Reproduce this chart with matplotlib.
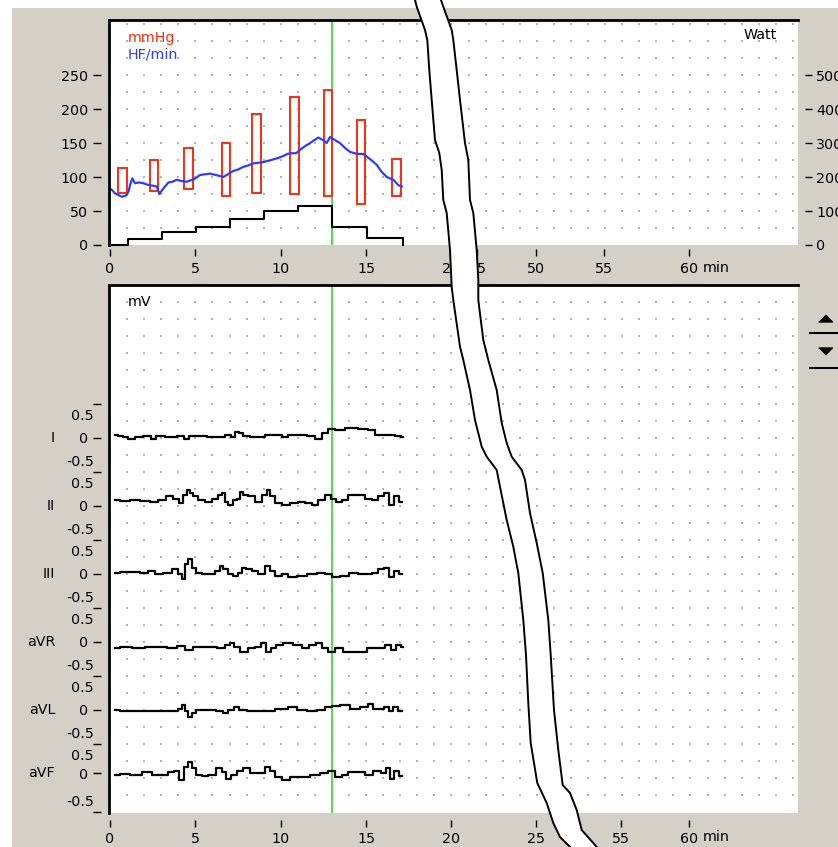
import numpy as np
import matplotlib
matplotlib.use('Agg')
import matplotlib.pyplot as plt
from matplotlib.patches import Polygon, Rectangle
from matplotlib.lines import Line2D
from matplotlib.transforms import offset_copy

W, H = 838, 847
GREY = '#d4d0c8'
plt.rcParams['font.family'] = 'DejaVu Sans'
plt.rcParams['font.size'] = 10.3

# blood pressure (mmHg), heart rate, load
bp_t = [0.73, 2.59, 4.6, 6.8, 8.58, 10.81, 12.78, 14.7, 16.78]
bp_sys = [114, 125, 142, 150, 192, 217, 228, 184, 127]
bp_dia = [77, 80, 83, 72, 77, 75, 72, 61, 72]

hr_t = [0.0, 0.15, 0.29, 0.45, 0.69, 0.85, 0.98, 1.1, 1.17, 1.31, 1.46, 1.7, 1.95, 2.15, 2.34,
        2.55, 2.74, 2.89, 3.0, 3.12, 3.42, 3.65, 3.91, 4.2, 4.49, 4.7, 4.88, 5.05, 5.27, 5.55,
        5.86, 6.2, 6.64, 6.9, 7.22, 7.5, 7.81, 8.1, 8.39, 8.7, 8.98, 9.3, 9.57, 9.85, 10.15,
        10.4, 10.64, 10.9, 11.13, 11.4, 11.72, 11.95, 12.2, 12.5, 12.69, 12.89, 13.2, 13.47, 13.75, 14.06,
        14.45, 14.84, 15.04, 15.3, 15.62, 15.9, 16.21, 16.4, 16.6, 16.89, 17.09]
hr = [83, 80, 76, 74, 71, 72, 73.5, 80, 88, 98, 91, 92, 91, 89, 88,
      87, 86, 75, 79, 83, 92, 93, 96, 94, 93, 95, 96, 99, 103, 104,
      105, 103, 100, 104, 109, 111, 115, 117, 120, 121, 122, 124, 126, 128, 131,
      134, 135, 135, 140, 145, 150, 154, 158, 154, 150, 159, 154, 150, 143, 137,
      134, 134, 130, 125, 118, 108, 100, 98, 96, 88, 86]

watt_t = [0, 1.03, 3.03, 5.02, 7.03, 9.02, 11.03, 13.0, 15.05, 17.18]
watt = [0, 17, 37, 54, 76, 100, 116, 54, 22, 0]

marker_t = 13.0

top_ticks = [0, 5, 10, 15, 20, 21.5, 24.96, 28.94, 33.92]
top_labels = ['0', '5', '10', '15', '20', '45', '50', '55', '60']
bot_ticks = [0, 5, 10, 15, 19.98, 24.96, 29.94, 33.92]
bot_labels = ['0', '5', '10', '15', '20', '25', '55', '60']

# ECG leads (mV)
leads = ['I', 'II', 'III', 'aVR', 'aVL', 'aVF']
lead_zero = [0, -1, -2, -3, -4, -4.93]

I_t = [0.29, 0.59, 0.88, 1.27, 1.66, 2.25, 2.54, 2.83, 3.61, 4.20, 4.49, 4.79, 5.37, 5.96, 6.54,
       6.93, 7.23, 7.42, 7.71, 7.91, 8.50, 8.89, 9.28, 9.86, 10.25, 10.64, 11.23, 11.82, 12.21, 12.60,
       12.99, 13.38, 14.16, 14.94, 15.33, 15.72, 16.50, 16.89, 17.19]
I_mv = [0.04, 0.03, 0.02, -0.01, 0.02, 0.03, -0.01, 0.03, 0.02, 0.03, -0.01, 0.03, 0.03, 0.02, 0.01,
        0.04, 0.02, 0.09, 0.07, 0.03, 0.02, 0.01, 0.04, 0.05, 0.01, 0.04, 0.05, 0.03, -0.01, 0.07,
        0.13, 0.12, 0.14, 0.13, 0.12, 0.05, 0.05, 0.03, 0.02]

II_t = [0.29, 0.88, 1.46, 2.05, 2.64, 3.03, 3.52, 3.91, 4.20, 4.39, 4.59, 4.79, 4.98, 5.37, 5.76,
        6.15, 6.45, 6.64, 6.84, 7.03, 7.32, 7.52, 7.71, 7.91, 8.30, 8.69, 9.08, 9.28, 9.47, 9.86,
        10.25, 10.84, 11.23, 11.62, 12.01, 12.40, 12.79, 13.09, 13.38, 13.77, 14.16, 14.75, 15.14, 15.53, 15.92,
        16.21, 16.50, 16.80, 17.09]
II_mv = [0.09, 0.07, 0.09, 0.07, 0.06, 0.09, 0.14, 0.11, 0.04, 0.16, 0.24, 0.19, 0.14, 0.09, 0.06,
         0.11, 0.16, 0.19, 0.06, 0.01, 0.09, 0.11, 0.21, 0.16, 0.14, 0.06, 0.16, 0.24, 0.14, 0.04,
         0.01, 0.04, 0.06, 0.04, 0.01, 0.09, 0.16, 0.11, 0.06, 0.09, 0.16, 0.16, 0.11, 0.09, 0.14,
         0.19, 0.01, 0.14, 0.06]

III_t = [0.29, 0.88, 1.46, 2.05, 2.44, 2.83, 3.42, 3.81, 4.10, 4.30, 4.49, 4.69, 4.88, 5.18, 5.57,
         5.96, 6.35, 6.54, 6.74, 7.03, 7.32, 7.62, 7.81, 8.11, 8.50, 8.89, 9.28, 9.47, 9.86, 10.25,
         10.64, 11.23, 11.82, 12.40, 12.79, 13.18, 13.77, 14.26, 14.75, 15.14, 15.53, 15.92, 16.21, 16.50, 16.80,
         17.09]
III_mv = [0.02, 0.03, 0.03, 0.02, 0.05, 0.00, 0.02, 0.07, 0.00, -0.08, 0.14, 0.22, 0.09, 0.02, 0.00,
          0.00, 0.04, 0.12, 0.07, 0.00, -0.03, 0.02, 0.09, 0.07, 0.04, 0.00, 0.12, 0.04, -0.03, 0.00,
          -0.05, -0.03, 0.00, 0.02, 0.00, -0.05, -0.03, 0.02, 0.00, 0.00, 0.02, 0.07, 0.09, -0.05, 0.04,
          0.00]

aVR_t = [0.29, 0.88, 1.66, 2.44, 3.03, 3.61, 4.20, 4.59, 5.18, 5.96, 6.54, 6.93, 7.13, 7.42, 7.81,
         8.30, 8.69, 8.98, 9.28, 9.57, 9.86, 10.45, 11.04, 11.43, 11.91, 12.21, 12.60, 12.99, 13.38, 13.96,
         14.75, 15.33, 15.92, 16.31, 16.60, 16.89, 17.19]
aVR_mv = [-0.09, -0.07, -0.09, -0.07, -0.08, -0.09, -0.06, -0.12, -0.08, -0.08, -0.09, -0.04, -0.01, -0.07, -0.14,
          -0.09, -0.07, -0.02, -0.14, -0.09, -0.04, -0.02, -0.04, -0.09, -0.04, -0.02, -0.09, -0.14, -0.09, -0.14,
          -0.14, -0.09, -0.09, -0.04, -0.12, -0.04, -0.07]

aVL_t = [0.29, 0.88, 1.46, 2.25, 2.83, 3.42, 3.91, 4.10, 4.30, 4.49, 4.69, 4.88, 5.18, 5.96, 6.45,
         6.74, 7.13, 7.42, 7.71, 8.30, 9.08, 9.47, 9.86, 10.25, 10.64, 11.23, 11.82, 12.40, 12.79, 13.18,
         13.77, 14.36, 14.94, 15.23, 15.53, 15.92, 16.21, 16.50, 16.70, 17.09]
aVL_mv = [0.00, -0.01, -0.02, -0.01, -0.02, -0.01, -0.01, 0.02, 0.07, -0.02, -0.11, -0.05, 0.00, 0.00, -0.02,
          -0.04, 0.00, 0.05, 0.00, -0.02, -0.01, -0.02, 0.02, 0.01, 0.04, 0.00, -0.01, 0.00, 0.04, 0.06,
          0.07, 0.02, 0.05, 0.09, 0.01, 0.01, 0.05, -0.01, 0.04, -0.01]

aVF_t = [0.29, 0.88, 1.46, 2.25, 2.64, 3.22, 3.61, 3.91, 4.20, 4.49, 4.69, 4.88, 5.18, 5.57, 5.96,
         6.45, 6.64, 6.93, 7.23, 7.62, 7.91, 8.50, 8.89, 9.28, 9.47, 9.86, 10.25, 10.84, 11.43, 12.01,
         12.60, 12.99, 13.38, 13.77, 14.16, 14.75, 15.14, 15.72, 16.01, 16.31, 16.50, 16.80, 17.09]
aVF_mv = [-0.03, -0.01, -0.03, 0.02, -0.03, -0.03, 0.02, 0.04, -0.10, 0.09, 0.17, 0.07, -0.03, -0.04, -0.03,
          0.07, 0.02, -0.08, -0.03, 0.04, 0.07, 0.00, 0.00, 0.09, 0.04, -0.05, -0.10, -0.05, -0.05, -0.03,
          0.00, 0.04, -0.05, -0.03, 0.02, 0.02, -0.03, 0.04, 0.00, 0.07, -0.08, 0.04, -0.04]

ecg_t = [I_t, II_t, III_t, aVR_t, aVL_t, aVF_t]
ecg_mv = [I_mv, II_mv, III_mv, aVR_mv, aVL_mv, aVF_mv]

# axis break (screen pixels)
brk_left = [(415, 0), (416.7, 6.7), (425, 30), (427.3, 40), (429.3, 70), (431.7, 100), (435, 140), (439.3, 153),
            (441.7, 170), (443.3, 200), (446.7, 213), (450, 250), (451.7, 287), (453.3, 300), (460, 346.7),
            (463.3, 360), (470, 390), (475, 420), (481.7, 446.7), (486.7, 456.7), (496.7, 470), (500, 486.7),
            (506.7, 520), (513.3, 546.7), (518.3, 573), (523.3, 620), (526, 655), (528.3, 703), (530.7, 743),
            (537.3, 783), (546.7, 803), (553.3, 823), (560, 837), (570, 847)]
brk_right = [(441, 0), (443.3, 6.7), (451.7, 30), (453.3, 40), (456.7, 70), (460, 100), (465, 143), (468.3, 160),
             (470, 200), (473.3, 213), (476.7, 250), (478.3, 280), (478.3, 300), (483.3, 340), (488.3, 360),
             (496.7, 390), (501.7, 423), (506.7, 443), (511.7, 456.7), (521.7, 470), (525, 480), (530, 513),
             (536.7, 543), (542.7, 573), (548.3, 620), (550.7, 655), (554, 710), (558.3, 750), (562.7, 785),
             (570, 793), (576.7, 810), (581.7, 830), (593.3, 843), (596.7, 847)]


def fx(p):
    return p[0] / W, 1 - p[1] / H


fig = plt.figure(figsize=(W / 100, H / 100), dpi=100, facecolor=GREY)


def px_ax(l, t, r, b):
    return fig.add_axes([l / W, 1 - b / H, (r - l) / W, (b - t) / H])


ax = px_ax(109, 20, 798, 245)
ax2 = ax.twinx()
ecg = px_ax(109, 285, 798, 813)

fig.add_artist(Rectangle((0, 0), 12 / W, 1, transform=fig.transFigure, fc='white', ec='none', zorder=1))
fig.add_artist(Rectangle((0, 1 - 8 / H), 1, 8 / H, transform=fig.transFigure, fc='white', ec='none', zorder=1))


def frame(a, bottom_out):
    for s in a.spines.values():
        s.set_visible(False)
    a.spines['top'].set_visible(True)
    a.spines['top'].set_linewidth(2)
    a.spines['left'].set_position(('outward', 6))
    a.spines['bottom'].set_position(('outward', bottom_out))
    a.plot([0, 0], [0, 1], transform=a.transAxes, color='k', lw=2, clip_on=False, zorder=5)
    a.set_xlim(-0.06, 40.3)
    a.tick_params(axis='x', length=5, width=1, pad=4)
    a.tick_params(axis='y', length=6, width=1, pad=3)


# ---- top panel ----
frame(ax, 3)
for s in ax2.spines.values():
    s.set_visible(False)
ax2.spines['right'].set_position(('outward', 5))
ax.set_ylim(0, 331)
ax2.set_ylim(0, 662)

gx, gy = np.meshgrid(np.arange(1, 41), np.arange(25, 330, 25))
ax.scatter(gx.ravel(), gy.ravel(), s=1.3, marker='s', c='#b4b4b4', linewidths=0, zorder=0)

ax.bar(bp_t, np.array(bp_sys) - np.array(bp_dia), bottom=bp_dia, width=0.49,
       fill=False, edgecolor='#ff2a10', linewidth=1.4, zorder=3)
ax.plot(hr_t, hr, color='#2f3ef2', lw=1.6, zorder=4)
ax2.plot(watt_t, watt, drawstyle='steps-post', color='k', lw=1.5, clip_on=False)
ax.axvline(marker_t, color='#3ddc3d', lw=1.3, zorder=2)

ax.set_yticks(range(0, 251, 50))
ax2.set_yticks(range(0, 501, 100))
ax2.tick_params(axis='y', length=5, width=1, pad=3)
ax.set_xticks(top_ticks)
ax.set_xticklabels(top_labels)
ax.text(34.74, -0.102, 'min', transform=ax.get_xaxis_transform(), ha='left', va='center')

ax.text(0.0276, 0.92, 'mmHg', color='#ff2a10', transform=ax.transAxes, va='center')
ax.text(0.0276, 0.845, 'HF/min', color='#2f3ef2', transform=ax.transAxes, va='center')
ax.text(0.9695, 0.933, 'Watt', transform=ax.transAxes, ha='right', va='center')

# ---- ECG panel ----
frame(ecg, 5)
ecg.set_ylim(-5.515, 2.25)
gx, gy = np.meshgrid(np.arange(1, 41), np.arange(-5.25, 2.01, 0.25))
ecg.scatter(gx.ravel(), gy.ravel(), s=1.3, marker='s', c='#b4b4b4', linewidths=0, zorder=0)

bounds = [0.5, -0.5, -1.5, -2.5, -3.5, -4.5, -5.5]
ecg.set_yticks(lead_zero + bounds)
ecg.set_yticklabels(['0'] * len(lead_zero) + [''] * len(bounds))
num_tr = offset_copy(ecg.get_yaxis_transform(), fig=fig, x=-15, y=0, units='dots')
name_tr = offset_copy(ecg.get_yaxis_transform(), fig=fig, x=-54, y=0, units='dots')
for i, name in enumerate(leads):
    z = lead_zero[i]
    ecg.plot(ecg_t[i], np.array(ecg_mv[i]) + z, color='k', lw=1.6, drawstyle='steps-mid', zorder=3)
    ecg.text(0, bounds[i] - 0.17, '0.5', transform=num_tr, ha='right', va='center')
    ecg.text(0, bounds[i + 1] + 0.15, '-0.5', transform=num_tr, ha='right', va='center')
    ecg.text(0, z, name, transform=name_tr, ha='right', va='center')

ecg.axvline(marker_t, color='#3ddc3d', lw=1.3, zorder=2)
ecg.set_xticks(bot_ticks)
ecg.set_xticklabels(bot_labels)
ecg.text(34.74, -0.0455, 'min', transform=ecg.get_xaxis_transform(), ha='left', va='center')
ecg.text(0.0276, 0.968, 'mV', transform=ecg.transAxes, va='center')

# ---- axis break band ----
band = [fx(p) for p in brk_left] + [fx(p) for p in brk_right[::-1]]
fig.add_artist(Polygon(band, closed=True, transform=fig.transFigure, fc='white', ec='none', zorder=10))
for edge in (brk_left, brk_right):
    xs, ys = zip(*[fx(p) for p in edge])
    fig.add_artist(Line2D(xs, ys, transform=fig.transFigure, color='k', lw=1.4, zorder=11))

# ---- scroll buttons ----
tri_up = [(-1, -0.5), (1, -0.5), (0, 0.5)]
tri_dn = [(-1, 0.5), (1, 0.5), (0, -0.5)]
for y, tri in ((318, tri_up), (351, tri_dn)):
    fig.add_artist(Line2D([825 / W], [1 - y / H], marker=tri, markersize=10, color='k',
                          transform=fig.transFigure, zorder=11))
for y in (333, 368):
    fig.add_artist(Line2D([810 / W, 1], [1 - y / H] * 2, color='k', lw=1.5,
                          transform=fig.transFigure, zorder=11))

fig.savefig('out.png', dpi=100, facecolor=GREY)
